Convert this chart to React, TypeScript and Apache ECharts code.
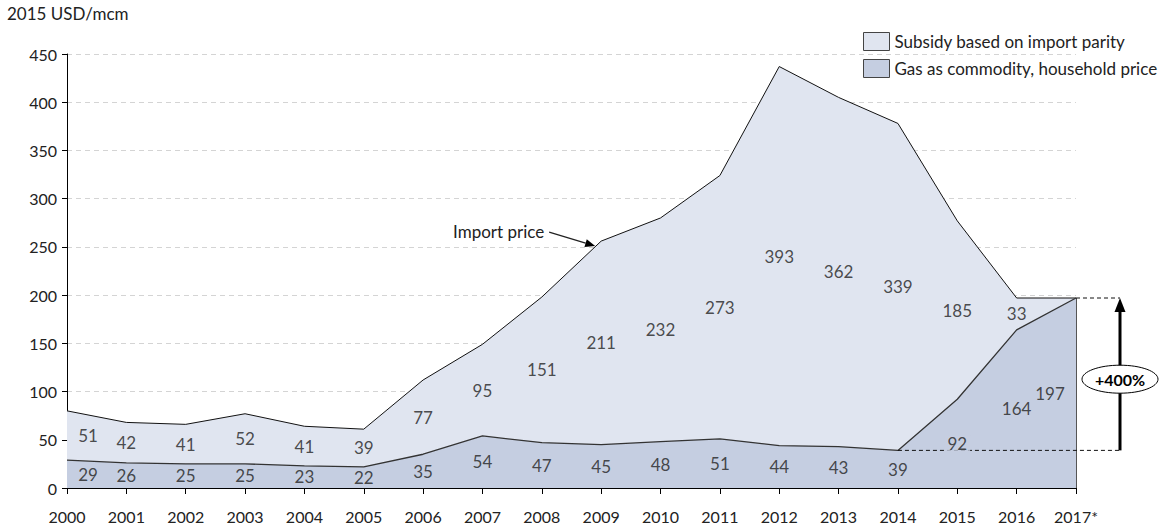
import React, { useEffect, useRef } from "react";
import * as echarts from "echarts";

const years = ["2000", "2001", "2002", "2003", "2004", "2005", "2006", "2007", "2008", "2009", "2010", "2011", "2012", "2013", "2014", "2015", "2016", "2017*"];
const householdPrice = [29, 26, 25, 25, 23, 22, 35, 54, 47, 45, 48, 51, 44, 43, 39, 92, 164, 197];
const subsidy = [51, 42, 41, 52, 41, 39, 77, 95, 151, 211, 232, 273, 393, 362, 339, 185, 33, 0];
const seriesNames = ["Subsidy based on import parity", "Gas as commodity, household price"];
const yAxisName = "2015 USD/mcm";
const importLabel = "Import price";
const growthLabel = "+400%";
const importIndex = 9;
const baseIndex = 14;
const lastIndex = 17;

const FONT = "Lato";
const COL_TOP = "#e0e5f0";
const COL_BOTTOM = "#c5cee1";
const TXT = "#222";

export default function App() {
  const ref = useRef<HTMLDivElement>(null);

  useEffect(() => {
    if (!ref.current) return;
    const chart = echarts.init(ref.current, undefined, { renderer: "svg" });
    const totals = householdPrice.map((v, i) => v + subsidy[i]);

    const labelTweak = (i: number) =>
      i === 0 ? { offset: [21, 0] } : i === lastIndex ? { offset: [-26, 0] } : undefined;

    const bottomLabels = householdPrice.map((v, i) => ({
      value: [i, v / 2, v],
      label: i === 15 ? { backgroundColor: COL_BOTTOM, padding: [0, 3] } : labelTweak(i),
    }));
    const topLabels = subsidy
      .map((v, i) => (v > 0 ? { value: [i, householdPrice[i] + v / 2, v], label: labelTweak(i) } : null))
      .filter((d) => d !== null);

    const dataLabel = {
      show: true,
      position: "inside",
      color: TXT,
      fontSize: 17,
      fontFamily: FONT,
      formatter: (p: any) => String(p.value[2]),
    };

    chart.setOption({
      animation: false,
      textStyle: { fontFamily: FONT },
      grid: { left: 67, right: 94, top: 54, bottom: 44, containLabel: false },
      legend: {
        orient: "vertical",
        left: 858,
        top: 27,
        itemWidth: 26,
        itemHeight: 18,
        itemGap: 8,
        textStyle: { fontFamily: FONT, fontSize: 17, color: TXT },
        data: [
          { name: seriesNames[0], icon: "rect", itemStyle: { color: COL_TOP, borderColor: "#444", borderWidth: 1 } },
          { name: seriesNames[1], icon: "rect", itemStyle: { color: COL_BOTTOM, borderColor: "#444", borderWidth: 1 } },
        ],
      },
      xAxis: {
        type: "category",
        data: years,
        boundaryGap: false,
        axisLine: { lineStyle: { color: "#000", width: 1 } },
        axisTick: { show: true, length: 6, lineStyle: { color: "#000" } },
        axisLabel: { color: TXT, fontSize: 16, fontFamily: FONT, margin: 20 },
        splitLine: { show: false },
      },
      yAxis: {
        type: "value",
        min: 0,
        max: 450,
        interval: 50,
        name: yAxisName,
        nameLocation: "end",
        nameGap: 32,
        nameTextStyle: { align: "left", padding: [0, 0, 0, -60], fontSize: 17, color: TXT, fontFamily: FONT },
        axisLine: { show: true, lineStyle: { color: "#000", width: 1 } },
        axisTick: { show: true, length: 5, lineStyle: { color: "#000" } },
        axisLabel: { color: TXT, fontSize: 16, fontFamily: FONT, margin: 10 },
        splitLine: { show: true, lineStyle: { color: "#d4d4d4", type: [5, 4] } },
      },
      series: [
        {
          name: seriesNames[1],
          type: "line",
          stack: "total",
          data: householdPrice,
          symbol: "none",
          itemStyle: { color: COL_BOTTOM },
          lineStyle: { color: "#333", width: 1.3 },
          areaStyle: { color: COL_BOTTOM, opacity: 1 },
          z: 3,
          markLine: {
            silent: true,
            symbol: "none",
            label: { show: false },
            lineStyle: { color: "#555", width: 1, type: "solid" },
            data: [[{ coord: [lastIndex, 0] }, { coord: [lastIndex, householdPrice[lastIndex]] }]],
          },
        },
        {
          name: seriesNames[0],
          type: "line",
          stack: "total",
          data: subsidy,
          symbol: "none",
          itemStyle: { color: COL_TOP },
          lineStyle: { color: "#111", width: 1 },
          areaStyle: { color: COL_TOP, opacity: 1 },
          z: 2,
        },
        {
          name: "bottomLabels",
          type: "scatter",
          data: bottomLabels,
          symbolSize: 0,
          silent: true,
          z: 10,
          label: dataLabel,
        },
        {
          name: "topLabels",
          type: "scatter",
          data: topLabels,
          symbolSize: 0,
          silent: true,
          z: 10,
          label: dataLabel,
        },
      ],
    });

    const px = (i: number, v: number) => chart.convertToPixel({ gridIndex: 0 }, [i, v]) as number[];
    const pBase = px(baseIndex, householdPrice[baseIndex]);
    const pLast = px(lastIndex, totals[lastIndex]);
    const xArrow = pLast[0] + 44;
    const yLow = pBase[1];
    const yHigh = pLast[1];
    const yMid = (yLow + yHigh) / 2 + 5;

    const pImp = px(importIndex, totals[importIndex]);
    const tip = [pImp[0] - 6, pImp[1] + 5];
    const start = [pImp[0] - 52, pImp[1] - 9];
    const dx = tip[0] - start[0];
    const dy = tip[1] - start[1];
    const len = Math.sqrt(dx * dx + dy * dy);
    const ux = dx / len;
    const uy = dy / len;
    const hl = 10;
    const hw = 4;
    const baseX = tip[0] - ux * hl;
    const baseY = tip[1] - uy * hl;

    chart.setOption({
      graphic: [
        {
          type: "line",
          z: 5,
          shape: { x1: pBase[0], y1: yLow, x2: xArrow, y2: yLow },
          style: { stroke: "#111", lineWidth: 1, lineDash: [4, 3] },
        },
        {
          type: "line",
          z: 5,
          shape: { x1: pLast[0], y1: yHigh, x2: xArrow, y2: yHigh },
          style: { stroke: "#111", lineWidth: 1, lineDash: [4, 3] },
        },
        {
          type: "line",
          z: 6,
          shape: { x1: xArrow, y1: yLow, x2: xArrow, y2: yHigh + 12 },
          style: { stroke: "#000", lineWidth: 3 },
        },
        {
          type: "polygon",
          z: 6,
          shape: { points: [[xArrow, yHigh], [xArrow - 5.5, yHigh + 14], [xArrow + 5.5, yHigh + 14]] },
          style: { fill: "#000" },
        },
        {
          type: "ellipse",
          z: 7,
          shape: { cx: xArrow, cy: yMid, rx: 38, ry: 14 },
          style: { fill: "#fff", stroke: "#000", lineWidth: 1 },
        },
        {
          type: "text",
          z: 8,
          x: xArrow,
          y: yMid,
          style: {
            text: growthLabel,
            fill: "#000",
            font: `bold 16px ${FONT}`,
            align: "center",
            verticalAlign: "middle",
          },
        },
        {
          type: "line",
          z: 6,
          shape: { x1: start[0], y1: start[1], x2: baseX, y2: baseY },
          style: { stroke: "#222", lineWidth: 1.3 },
        },
        {
          type: "polygon",
          z: 6,
          shape: {
            points: [
              [tip[0], tip[1]],
              [baseX - uy * hw, baseY + ux * hw],
              [baseX + uy * hw, baseY - ux * hw],
            ],
          },
          style: { fill: "#000" },
        },
        {
          type: "text",
          z: 6,
          x: start[0] - 5,
          y: start[1] - 1,
          style: {
            text: importLabel,
            fill: TXT,
            font: `17px ${FONT}`,
            align: "right",
            verticalAlign: "middle",
          },
        },
      ],
    });

    return () => chart.dispose();
  }, []);

  return <div ref={ref} style={{ position: "absolute", left: 0, top: 0, width: 1170, height: 532 }} />;
}
